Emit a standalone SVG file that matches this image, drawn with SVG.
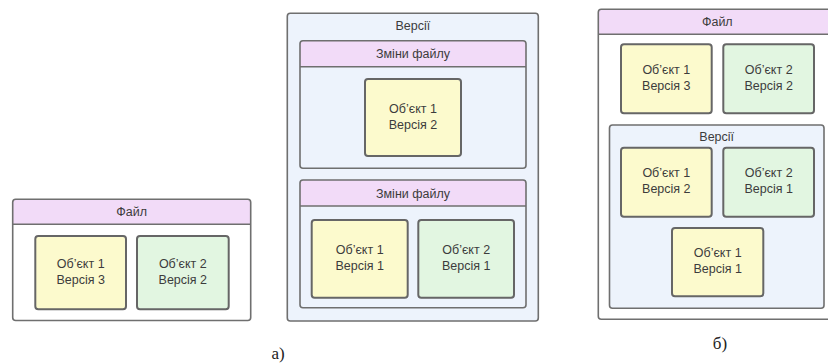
<svg xmlns="http://www.w3.org/2000/svg" width="828" height="363" viewBox="0 0 828 363">
<style>
.frame{stroke:#6f6f6f;stroke-width:1.6;}
.white{fill:#ffffff;}
.blue{fill:#edf3fc;}
.hdr{fill:#f2dbf8;}
.obj{stroke:#666666;stroke-width:2;}
.y{fill:#fcfacd;}
.g{fill:#e2f6e1;}
.t{font-family:"Liberation Sans",Arial,sans-serif;font-size:12.5px;fill:#3c3c3c;text-anchor:middle;}
.cap{font-family:"Liberation Serif","Times New Roman",serif;font-size:17px;fill:#222;text-anchor:middle;}
</style>
<rect width="828" height="363" fill="#ffffff"/>

<!-- a) left: File -->
<g id="file-a">
<rect x="12.7" y="199.3" width="238" height="121.2" rx="3" class="white"/>
<path d="M12.7 224.3 V202.3 Q12.7 199.3 15.7 199.3 H247.7 Q250.7 199.3 250.7 202.3 V224.3 Z" class="hdr"/>
<line x1="12.7" y1="224.3" x2="250.7" y2="224.3" class="frame"/>
<rect x="12.7" y="199.3" width="238" height="121.2" rx="3" fill="none" class="frame"/>
<text x="131.7" y="216" class="t">Файл</text>
</g>
<g id="a-obj1-v3">
<rect x="35.3" y="236" width="90.7" height="73.3" rx="3" class="obj y"/>
<text x="80.7" y="267.7" class="t">Об’єкт 1</text>
<text x="80.7" y="283.7" class="t">Версія 3</text>
</g>
<g id="a-obj2-v2">
<rect x="137" y="236" width="91.7" height="73.3" rx="3" class="obj g"/>
<text x="182.8" y="267.7" class="t">Об’єкт 2</text>
<text x="182.8" y="283.7" class="t">Версія 2</text>
</g>

<!-- a) middle: Versions -->
<g id="versions-a">
<rect x="287.3" y="13.3" width="251" height="307.7" rx="3" class="blue frame"/>
<text x="412.8" y="29.5" class="t">Версії</text>
</g>
<g id="changes-1">
<rect x="300" y="40.7" width="226" height="127.6" rx="3" class="blue"/>
<path d="M300 66.7 V43.7 Q300 40.7 303 40.7 H523 Q526 40.7 526 43.7 V66.7 Z" class="hdr"/>
<line x1="300" y1="66.7" x2="526" y2="66.7" class="frame"/>
<rect x="300" y="40.7" width="226" height="127.6" rx="3" fill="none" class="frame"/>
<text x="413" y="58" class="t">Зміни файлу</text>
</g>
<g id="b1-obj1-v2">
<rect x="365" y="79" width="96" height="77" rx="3" class="obj y"/>
<text x="413" y="112.5" class="t">Об’єкт 1</text>
<text x="413" y="128.5" class="t">Версія 2</text>
</g>
<g id="changes-2">
<rect x="300" y="180" width="226" height="127.7" rx="3" class="blue"/>
<path d="M300 206 V183 Q300 180 303 180 H523 Q526 180 526 183 V206 Z" class="hdr"/>
<line x1="300" y1="206" x2="526" y2="206" class="frame"/>
<rect x="300" y="180" width="226" height="127.7" rx="3" fill="none" class="frame"/>
<text x="413" y="197.8" class="t">Зміни файлу</text>
</g>
<g id="b2-obj1-v1">
<rect x="311.7" y="220" width="96" height="77.7" rx="3" class="obj y"/>
<text x="359.7" y="253.8" class="t">Об’єкт 1</text>
<text x="359.7" y="269.8" class="t">Версія 1</text>
</g>
<g id="b2-obj2-v1">
<rect x="418.3" y="220" width="95.7" height="77.7" rx="3" class="obj g"/>
<text x="466.2" y="253.8" class="t">Об’єкт 2</text>
<text x="466.2" y="269.8" class="t">Версія 1</text>
</g>

<!-- b) right: File with Versions -->
<g id="file-b">
<rect x="598.3" y="9.3" width="238" height="310" rx="3" class="white"/>
<path d="M598.3 34.3 V12.3 Q598.3 9.3 601.3 9.3 H833.3 Q836.3 9.3 836.3 12.3 V34.3 Z" class="hdr"/>
<line x1="598.3" y1="34.3" x2="836.3" y2="34.3" class="frame"/>
<rect x="598.3" y="9.3" width="238" height="310" rx="3" fill="none" class="frame"/>
<text x="717.3" y="26" class="t">Файл</text>
</g>
<g id="c-obj1-v3">
<rect x="621" y="44.3" width="90.7" height="69" rx="3" class="obj y"/>
<text x="666.3" y="73.8" class="t">Об’єкт 1</text>
<text x="666.3" y="89.8" class="t">Версія 3</text>
</g>
<g id="c-obj2-v2">
<rect x="723.3" y="44.3" width="90.7" height="69" rx="3" class="obj g"/>
<text x="768.7" y="73.8" class="t">Об’єкт 2</text>
<text x="768.7" y="89.8" class="t">Версія 2</text>
</g>
<g id="versions-b">
<rect x="609.5" y="125" width="214.5" height="183.3" rx="3" class="blue frame"/>
<text x="716.7" y="140.5" class="t">Версії</text>
</g>
<g id="c-obj1-v2">
<rect x="621" y="147.7" width="90.7" height="69" rx="3" class="obj y"/>
<text x="666.3" y="177.2" class="t">Об’єкт 1</text>
<text x="666.3" y="193.2" class="t">Версія 2</text>
</g>
<g id="c-obj2-v1">
<rect x="723.3" y="147.7" width="90.7" height="69" rx="3" class="obj g"/>
<text x="768.7" y="177.2" class="t">Об’єкт 2</text>
<text x="768.7" y="193.2" class="t">Версія 1</text>
</g>
<g id="c-obj1-v1">
<rect x="672" y="228" width="91.3" height="68.3" rx="3" class="obj y"/>
<text x="717.7" y="257.2" class="t">Об’єкт 1</text>
<text x="717.7" y="273.2" class="t">Версія 1</text>
</g>

<g id="connectors"></g>

<text x="278" y="359" class="cap">а)</text>
<text x="720" y="349" class="cap">б)</text>
</svg>
